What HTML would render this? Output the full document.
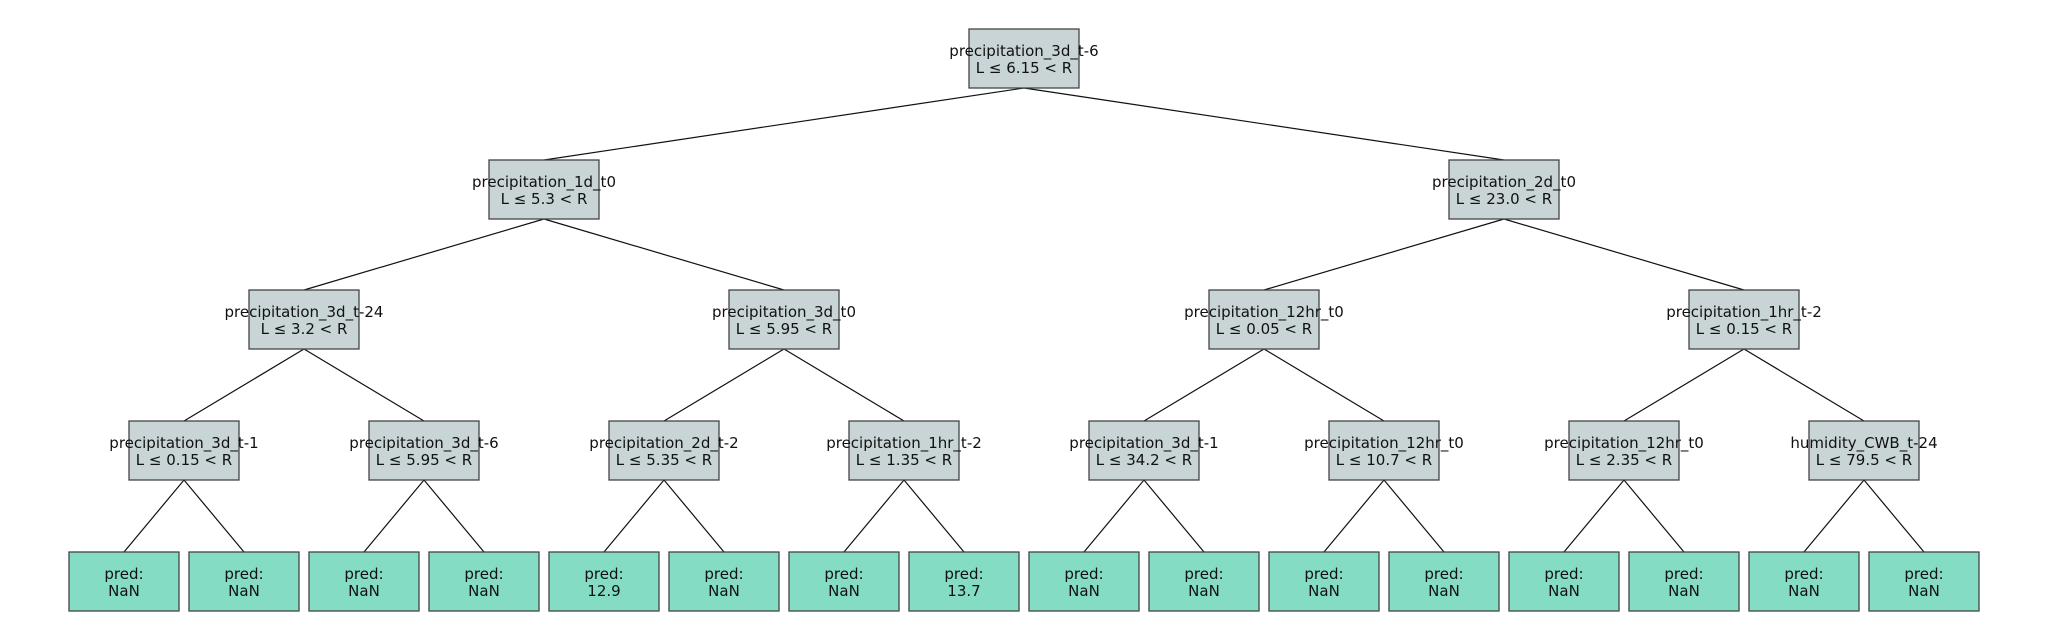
<!DOCTYPE html>
<html><head><meta charset="utf-8"><style>
html,body{margin:0;padding:0;background:#fff;}
svg{display:block;}
text{font-family:"DejaVu Sans","Liberation Sans",sans-serif;font-size:15px;fill:#111;text-anchor:middle;}
.n{fill:#c8d4d5;stroke:#444;stroke-width:1.3;}
.l{fill:#85dcc5;stroke:#444;stroke-width:1.3;}
line{stroke:#111;stroke-width:1.2;}
</style></head><body>
<svg width="2048" height="640" viewBox="0 0 2048 640">
<g>
<line x1="1024" y1="88" x2="544" y2="160"/><line x1="1024" y1="88" x2="1504" y2="160"/>
<line x1="544" y1="219" x2="304" y2="290"/><line x1="544" y1="219" x2="784" y2="290"/>
<line x1="1504" y1="219" x2="1264" y2="290"/><line x1="1504" y1="219" x2="1744" y2="290"/>
<line x1="304" y1="349" x2="184" y2="421"/><line x1="304" y1="349" x2="424" y2="421"/>
<line x1="784" y1="349" x2="664" y2="421"/><line x1="784" y1="349" x2="904" y2="421"/>
<line x1="1264" y1="349" x2="1144" y2="421"/><line x1="1264" y1="349" x2="1384" y2="421"/>
<line x1="1744" y1="349" x2="1624" y2="421"/><line x1="1744" y1="349" x2="1864" y2="421"/>
<line x1="184" y1="480" x2="124" y2="552"/><line x1="184" y1="480" x2="244" y2="552"/>
<line x1="424" y1="480" x2="364" y2="552"/><line x1="424" y1="480" x2="484" y2="552"/>
<line x1="664" y1="480" x2="604" y2="552"/><line x1="664" y1="480" x2="724" y2="552"/>
<line x1="904" y1="480" x2="844" y2="552"/><line x1="904" y1="480" x2="964" y2="552"/>
<line x1="1144" y1="480" x2="1084" y2="552"/><line x1="1144" y1="480" x2="1204" y2="552"/>
<line x1="1384" y1="480" x2="1324" y2="552"/><line x1="1384" y1="480" x2="1444" y2="552"/>
<line x1="1624" y1="480" x2="1564" y2="552"/><line x1="1624" y1="480" x2="1684" y2="552"/>
<line x1="1864" y1="480" x2="1804" y2="552"/><line x1="1864" y1="480" x2="1924" y2="552"/>
</g>
<g>
<rect class="n" x="969" y="29" width="110" height="59"/><text x="1024" y="56">precipitation_3d_t-6</text><text x="1024" y="73">L ≤ 6.15 &lt; R</text>

<rect class="n" x="489" y="160" width="110" height="59"/><text x="544" y="187">precipitation_1d_t0</text><text x="544" y="204">L ≤ 5.3 &lt; R</text>
<rect class="n" x="1449" y="160" width="110" height="59"/><text x="1504" y="187">precipitation_2d_t0</text><text x="1504" y="204">L ≤ 23.0 &lt; R</text>

<rect class="n" x="249" y="290" width="110" height="59"/><text x="304" y="317">precipitation_3d_t-24</text><text x="304" y="334">L ≤ 3.2 &lt; R</text>
<rect class="n" x="729" y="290" width="110" height="59"/><text x="784" y="317">precipitation_3d_t0</text><text x="784" y="334">L ≤ 5.95 &lt; R</text>
<rect class="n" x="1209" y="290" width="110" height="59"/><text x="1264" y="317">precipitation_12hr_t0</text><text x="1264" y="334">L ≤ 0.05 &lt; R</text>
<rect class="n" x="1689" y="290" width="110" height="59"/><text x="1744" y="317">precipitation_1hr_t-2</text><text x="1744" y="334">L ≤ 0.15 &lt; R</text>

<rect class="n" x="129" y="421" width="110" height="59"/><text x="184" y="448">precipitation_3d_t-1</text><text x="184" y="465">L ≤ 0.15 &lt; R</text>
<rect class="n" x="369" y="421" width="110" height="59"/><text x="424" y="448">precipitation_3d_t-6</text><text x="424" y="465">L ≤ 5.95 &lt; R</text>
<rect class="n" x="609" y="421" width="110" height="59"/><text x="664" y="448">precipitation_2d_t-2</text><text x="664" y="465">L ≤ 5.35 &lt; R</text>
<rect class="n" x="849" y="421" width="110" height="59"/><text x="904" y="448">precipitation_1hr_t-2</text><text x="904" y="465">L ≤ 1.35 &lt; R</text>
<rect class="n" x="1089" y="421" width="110" height="59"/><text x="1144" y="448">precipitation_3d_t-1</text><text x="1144" y="465">L ≤ 34.2 &lt; R</text>
<rect class="n" x="1329" y="421" width="110" height="59"/><text x="1384" y="448">precipitation_12hr_t0</text><text x="1384" y="465">L ≤ 10.7 &lt; R</text>
<rect class="n" x="1569" y="421" width="110" height="59"/><text x="1624" y="448">precipitation_12hr_t0</text><text x="1624" y="465">L ≤ 2.35 &lt; R</text>
<rect class="n" x="1809" y="421" width="110" height="59"/><text x="1864" y="448">humidity_CWB_t-24</text><text x="1864" y="465">L ≤ 79.5 &lt; R</text>
</g>
<g>
<rect class="l" x="69" y="552" width="110" height="59"/><text x="124" y="579">pred:</text><text x="124" y="596">NaN</text>
<rect class="l" x="189" y="552" width="110" height="59"/><text x="244" y="579">pred:</text><text x="244" y="596">NaN</text>
<rect class="l" x="309" y="552" width="110" height="59"/><text x="364" y="579">pred:</text><text x="364" y="596">NaN</text>
<rect class="l" x="429" y="552" width="110" height="59"/><text x="484" y="579">pred:</text><text x="484" y="596">NaN</text>
<rect class="l" x="549" y="552" width="110" height="59"/><text x="604" y="579">pred:</text><text x="604" y="596">12.9</text>
<rect class="l" x="669" y="552" width="110" height="59"/><text x="724" y="579">pred:</text><text x="724" y="596">NaN</text>
<rect class="l" x="789" y="552" width="110" height="59"/><text x="844" y="579">pred:</text><text x="844" y="596">NaN</text>
<rect class="l" x="909" y="552" width="110" height="59"/><text x="964" y="579">pred:</text><text x="964" y="596">13.7</text>
<rect class="l" x="1029" y="552" width="110" height="59"/><text x="1084" y="579">pred:</text><text x="1084" y="596">NaN</text>
<rect class="l" x="1149" y="552" width="110" height="59"/><text x="1204" y="579">pred:</text><text x="1204" y="596">NaN</text>
<rect class="l" x="1269" y="552" width="110" height="59"/><text x="1324" y="579">pred:</text><text x="1324" y="596">NaN</text>
<rect class="l" x="1389" y="552" width="110" height="59"/><text x="1444" y="579">pred:</text><text x="1444" y="596">NaN</text>
<rect class="l" x="1509" y="552" width="110" height="59"/><text x="1564" y="579">pred:</text><text x="1564" y="596">NaN</text>
<rect class="l" x="1629" y="552" width="110" height="59"/><text x="1684" y="579">pred:</text><text x="1684" y="596">NaN</text>
<rect class="l" x="1749" y="552" width="110" height="59"/><text x="1804" y="579">pred:</text><text x="1804" y="596">NaN</text>
<rect class="l" x="1869" y="552" width="110" height="59"/><text x="1924" y="579">pred:</text><text x="1924" y="596">NaN</text>
</g>
</svg>
</body></html>
